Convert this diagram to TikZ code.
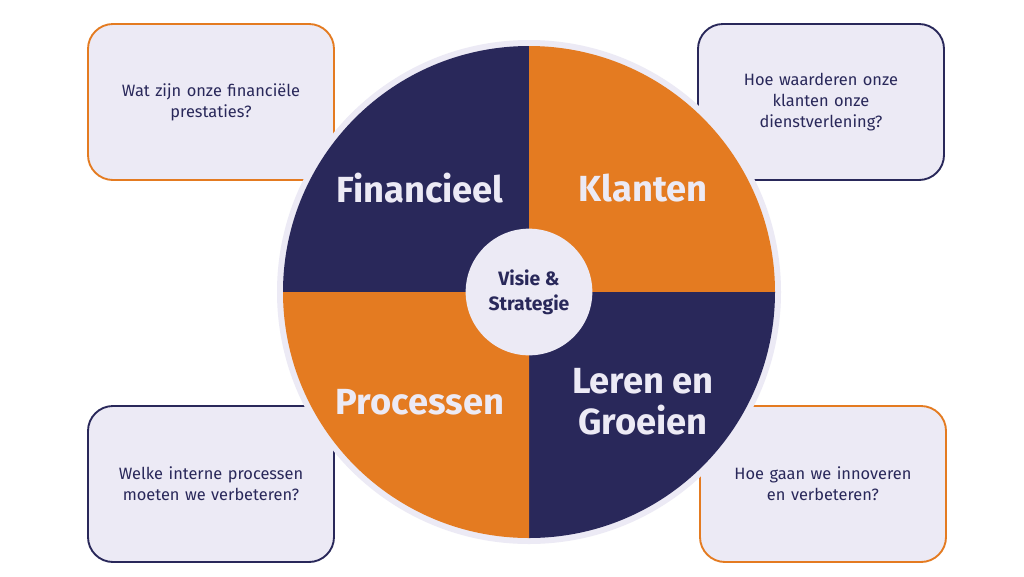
\documentclass[tikz,border=0pt]{standalone}
\usepackage{fontspec}
\setmainfont{Fira Sans}
\definecolor{navy}{HTML}{29285A}
\definecolor{orng}{HTML}{E47B21}
\definecolor{lav}{HTML}{ECEAF5}
\begin{document}
\begin{tikzpicture}[x=0.03cm,y=-0.03cm,
  qbox/.style={draw,line width=1.6pt,fill=lav,rounded corners=0.75cm,minimum width=7.38cm,minimum height=4.68cm,inner sep=0pt},
  qtxt/.style={text=navy,font=\fontsize{14}{18}\selectfont,align=center,text width=6.4cm},
  big/.style={text=lav,font=\fontsize{31}{35}\bfseries\selectfont,align=center}]
\useasboundingbox (0,0) rectangle (1024,576);
\fill[white] (0,0) rectangle (1024,576);
\node[qbox,draw=orng] (b1) at (211,102) {};
\node[qbox,draw=navy] (b2) at (821,102) {};
\node[qbox,draw=navy] (b3) at (211,484) {};
\node[qbox,draw=orng] (b4) at (823,484) {};
\node[qtxt] (t1) at (211,102) {Wat zijn onze financiële\\prestaties?};
\node[qtxt] (t2) at (821,102) {Hoe waarderen onze\\klanten onze\\dienstverlening?};
\node[qtxt] (t3) at (211,484) {Welke interne processen\\moeten we verbeteren?};
\node[qtxt] (t4) at (823,484) {Hoe gaan we innoveren\\en verbeteren?};
\coordinate (c) at (529,292);
\fill[lav] (c) circle (252);
\fill[navy] (c) -- (283,292) arc[start angle=180,end angle=270,radius=246] -- cycle;
\fill[orng] (c) -- (529,46) arc[start angle=270,end angle=360,radius=246] -- cycle;
\fill[navy] (c) -- (775,292) arc[start angle=0,end angle=90,radius=246] -- cycle;
\fill[orng] (c) -- (529,538) arc[start angle=90,end angle=180,radius=246] -- cycle;
\node[circle,fill=lav,minimum size=3.8cm,inner sep=0pt,text=navy,font=\fontsize{16.5}{21}\bfseries\selectfont,align=center] (v) at (c) {Visie \&\\Strategie};
\node[big] (f) at (420,188) {Financieel};
\node[big] (k) at (643,188) {Klanten};
\node[big] (p) at (420,402) {Processen};
\node[big] (l) at (643,402) {Leren en\\Groeien};
\end{tikzpicture}
\end{document}
